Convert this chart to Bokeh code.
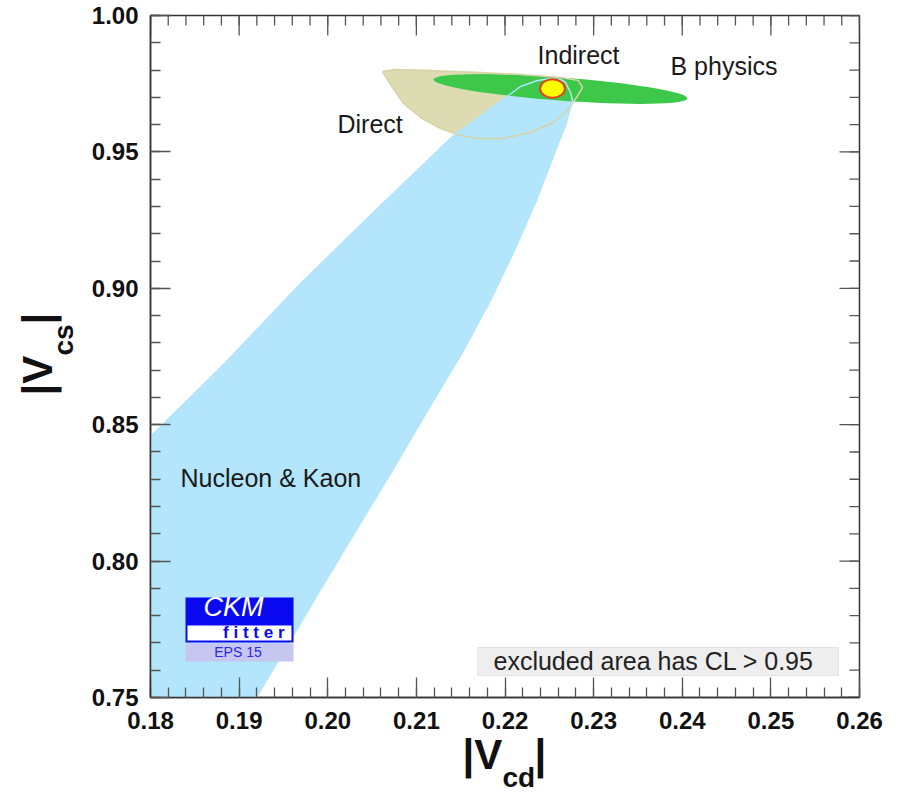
from bokeh.plotting import figure
from bokeh.models import (Range1d, FixedTicker, NumeralTickFormatter,
                          Label, BoxAnnotation, ColumnDataSource)
from bokeh.core.properties import value
from bokeh.embed import file_html
from bokeh.resources import INLINE
import math

# ---------------- data ----------------
x_ticks = [0.18, 0.19, 0.20, 0.21, 0.22, 0.23, 0.24, 0.25, 0.26]
y_ticks = [0.75, 0.80, 0.85, 0.90, 0.95, 1.00]

# Nucleon & Kaon constraint (boundary of the 95% CL region)
nk_x = [0.175, 0.18000, 0.18846, 0.19693, 0.20595, 0.21419, 0.21836, 0.22039,
        0.22175, 0.22367, 0.22513, 0.22626, 0.22683, 0.22739, 0.22762, 0.22683,
        0.22570, 0.22355, 0.22107, 0.21836, 0.21532, 0.21193, 0.20708, 0.19952,
        0.19207, 0.19009, 0.175]
nk_y = [0.8281, 0.84567, 0.87280, 0.90176, 0.93035, 0.95601, 0.96591, 0.97067,
        0.97397, 0.97617, 0.97691, 0.97654, 0.97544, 0.97177, 0.96884, 0.95968,
        0.95051, 0.93218, 0.91386, 0.89553, 0.87720, 0.85887, 0.83211, 0.79142,
        0.75073, 0.740, 0.740]

# Direct measurements
direct_x = [0.20618, 0.20708, 0.20855, 0.21047, 0.21272, 0.21498, 0.21724, 0.21983,
            0.22288, 0.22547, 0.22705, 0.22807, 0.22875, 0.22829, 0.22626, 0.22175,
            0.21724, 0.21159, 0.20764]
direct_y = [0.97947, 0.97471, 0.96774, 0.96261, 0.95858, 0.95601, 0.95491, 0.95491,
            0.95711, 0.96078, 0.96518, 0.96994, 0.97361, 0.97617, 0.97727, 0.97837,
            0.97911, 0.97984, 0.98021]

# B physics ellipse: centre, full width / height (data units), tilt (rad)
bphys_x = [0.22626]
bphys_y = [0.97306]
bphys_w = [0.02874]
bphys_h = [0.00843]
bphys_angle = [-0.0746]

# Indirect (global fit) result
ind_x = [0.22536]
ind_y = [0.97324]
ind_w = [0.0028]
ind_h = [0.0068]

region_labels = ["Indirect", "B physics", "Direct", "Nucleon & Kaon"]
region_lx = [0.22367, 0.23867, 0.2011, 0.18339]
region_ly = [0.98534, 0.98131, 0.96041, 0.83028]

# ---------------- figure ----------------
FONT = "Liberation Sans"
TICK_COLOR = "#555555"
p = figure(width=901, height=795, x_range=Range1d(0.18, 0.26), y_range=Range1d(0.75, 1.0),
           output_backend="svg", toolbar_location=None,
           min_border_left=150, min_border_right=42, min_border_top=15, min_border_bottom=98)
p.grid.visible = False
p.background_fill_color = "white"
p.border_fill_color = "white"
p.outline_line_color = "#333333"
p.outline_line_width = 1.5

x_minor = [round(0.18 + 0.002 * i, 4) for i in range(41)]
y_minor = [round(0.75 + 0.01 * i, 4) for i in range(26)]


def style_axis(ax, ticks, minor, standoff):
    ax.ticker = FixedTicker(ticks=ticks, minor_ticks=minor)
    ax.formatter = NumeralTickFormatter(format="0.00")
    ax.axis_line_color = "#333333"
    ax.axis_line_width = 1.5
    ax.major_tick_in = 20
    ax.major_tick_out = 0
    ax.minor_tick_in = 10
    ax.minor_tick_out = 0
    ax.major_tick_line_color = TICK_COLOR
    ax.minor_tick_line_color = TICK_COLOR
    ax.major_tick_line_width = 1.3
    ax.minor_tick_line_width = 1.3
    ax.axis_label = None
    ax.major_label_text_font = FONT
    ax.major_label_text_font_style = "bold"
    ax.major_label_text_font_size = "24px"
    ax.major_label_text_color = "#111111"
    ax.major_label_standoff = standoff


style_axis(p.xaxis[0], x_ticks, x_minor, 14)
style_axis(p.yaxis[0], y_ticks, y_minor, 12)

# mirrored ticks on the top and right frame edges
y_top = p.y_range.end
x_right = p.x_range.end
p.ray(x=x_ticks, y=[y_top] * len(x_ticks), length=20, length_units="screen",
      angle=-math.pi / 2, line_color=TICK_COLOR, line_width=1.3)
p.ray(x=x_minor, y=[y_top] * len(x_minor), length=10, length_units="screen",
      angle=-math.pi / 2, line_color=TICK_COLOR, line_width=1.3)
p.ray(x=[x_right] * len(y_ticks), y=y_ticks, length=20, length_units="screen",
      angle=math.pi, line_color=TICK_COLOR, line_width=1.3)
p.ray(x=[x_right] * len(y_minor), y=y_minor, length=10, length_units="screen",
      angle=math.pi, line_color=TICK_COLOR, line_width=1.3)

# regions
BLUE = "#b3e5fc"
p.patch(direct_x, direct_y, fill_color="#dcdbb2", line_color=None)
p.patch(nk_x, nk_y, fill_color=BLUE, line_color=None)
bsrc = ColumnDataSource(dict(x=bphys_x, y=bphys_y, w=bphys_w, h=bphys_h, a=bphys_angle))
p.ellipse(x="x", y="y", width="w", height="h", angle="a", source=bsrc,
          fill_color="#3ec84a", line_color=None)
p.patch(direct_x, direct_y, fill_color=None, line_color="#d6d3a6", line_width=1.5)
p.patch(nk_x, nk_y, fill_color=None, line_color=BLUE, line_width=1.5)
isrc = ColumnDataSource(dict(x=ind_x, y=ind_y, w=ind_w, h=ind_h))
p.ellipse(x="x", y="y", width="w", height="h", source=isrc,
          fill_color="#ffff00", line_color="#e2401c", line_width=2)

lsrc = ColumnDataSource(dict(x=region_lx, y=region_ly, t=region_labels))
p.text(x="x", y="y", text="t", source=lsrc, text_font=value(FONT),
       text_font_size=value("25px"), text_color="#1a1a1a",
       text_align="left", text_baseline="alphabetic")

# CL box
p.add_layout(BoxAnnotation(left=0.2169, right=0.25763, top=0.76833, bottom=0.75806,
                           fill_color="#eeeeee", fill_alpha=1.0,
                           line_color="#b8b8b8", line_width=1))
p.add_layout(Label(x=0.2187, y=0.7632, text="excluded area has CL > 0.95",
                   text_font=FONT, text_font_size="25px", text_color="#222222",
                   text_baseline="alphabetic"))

# CKMfitter logo
p.add_layout(BoxAnnotation(left=0.18395, right=0.19614, top=0.78666, bottom=0.77016,
                           fill_color="#0a0af0", fill_alpha=1.0, line_color=None))
p.add_layout(BoxAnnotation(left=0.18417, right=0.19591, top=0.77639, bottom=0.77089,
                           fill_color="white", fill_alpha=1.0, line_color=None))
p.add_layout(BoxAnnotation(left=0.18395, right=0.19614, top=0.76979, bottom=0.76320,
                           fill_color="#c6c6f0", fill_alpha=1.0, line_color=None))
p.add_layout(Label(x=0.18937, y=0.78329, text="CKM", text_font=FONT,
                   text_font_style="italic", text_font_size="27px", text_color="white",
                   text_align="center", text_baseline="alphabetic"))
p.add_layout(Label(x=0.19512, y=0.77375, text="f i t t e r", text_font=FONT,
                   text_font_style="bold", text_font_size="17px", text_color="#0a0af0",
                   text_align="right", text_baseline="alphabetic"))
p.add_layout(Label(x=0.18987, y=0.76668, text="EPS 15", text_font=FONT,
                   text_font_size="14px", text_color="#2a2ae6",
                   text_align="center", text_baseline="middle"))


# axis titles: placed in side panels so they are not clipped to the frame;
# the panel for each piece is chosen so that the borders keep their size.
def title_part(x, y, text, size, place, angle=0.0):
    p.add_layout(Label(x=x, y=y, text=text, text_font=FONT, text_font_style="bold",
                       text_font_size=size, text_color="#111111",
                       text_baseline="alphabetic", text_align="left", angle=angle), place)


title_part(0.21520, 0.72911, "|V", "42px", "left")
title_part(0.21972, 0.72068, "cd", "28px", "left")
title_part(0.22333, 0.72911, "|", "42px", "left")

title_part(0.16725, 0.86070, "|V", "42px", "below", math.pi / 2)
title_part(0.17019, 0.87537, "cs", "28px", "right", math.pi / 2)
title_part(0.16725, 0.88673, "|", "42px", "below", math.pi / 2)

open("out.html", "w").write(file_html(p, INLINE))
